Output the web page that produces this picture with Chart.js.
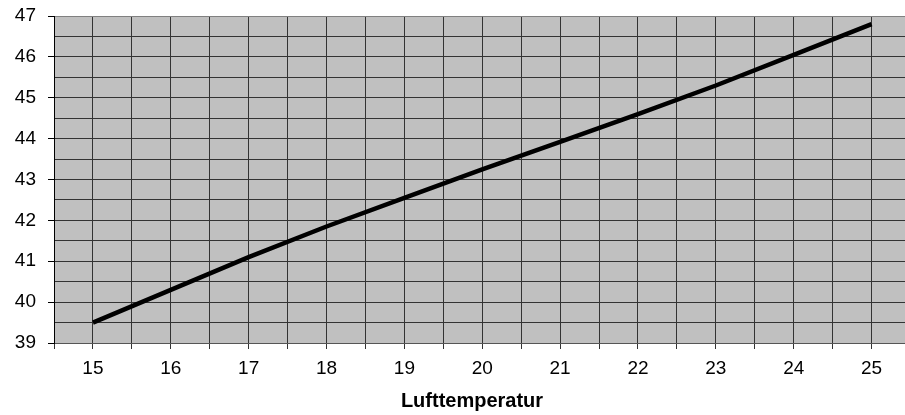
<!DOCTYPE html>
<html>
<head>
<meta charset="utf-8">
<script src="https://cdn.jsdelivr.net/npm/chart.js@4.4.1/dist/chart.umd.min.js"></script>
<style>
html,body{margin:0;padding:0;background:#fff;overflow:hidden;width:905px;height:415px;}
canvas{display:block;}
</style>
</head>
<body>
<canvas id="c" width="930" height="415"></canvas>
<script>
const categories = [15, 16, 17, 18, 19, 20, 21, 22, 23, 24, 25];
const values = [39.5, 40.3, 41.1, 41.85, 42.55, 43.25, 43.92, 44.6, 45.3, 46.05, 46.8];
const yTicks = [39, 40, 41, 42, 43, 44, 45, 46, 47];
const xTitle = 'Lufttemperatur';

const points = categories.map((c, i) => ({x: c, y: values[i]}));

const bgPlugin = {
  id: 'bg',
  beforeDraw(chart) {
    const {ctx, chartArea: a} = chart;
    ctx.save();
    ctx.fillStyle = '#C0C0C0';
    ctx.fillRect(a.left, a.top, a.right - a.left, a.bottom - a.top);
    ctx.restore();
  }
};

new Chart(document.getElementById('c'), {
  type: 'line',
  data: {
    datasets: [{
      data: points,
      borderColor: '#000',
      borderWidth: 4.5,
      pointRadius: 0,
      tension: 0,
      fill: false
    }]
  },
  options: {
    responsive: false,
    animation: false,
    layout: {padding: {top: 16, left: 14, right: 0, bottom: 0}},
    plugins: {
      legend: {display: false},
      tooltip: {enabled: false},
      title: {
        display: true,
        text: xTitle,
        position: 'bottom',
        color: '#000',
        font: {family: 'Liberation Sans, Arial, sans-serif', size: 20, weight: 'bold'},
        padding: {top: 9, bottom: 2}
      }
    },
    scales: {
      x: {
        type: 'linear',
        min: 14.5,
        max: 25.5,
        border: {color: '#555', width: 1},
        grid: {
          color: '#333',
          tickColor: '#333',
          tickLength: 6,
          drawOnChartArea: true
        },
        ticks: {
          stepSize: 0.5,
          autoSkip: false,
          maxRotation: 0,
          padding: 8,
          color: '#000',
          font: {family: 'Liberation Sans, Arial, sans-serif', size: 19},
          callback: (v) => (Number.isInteger(v) && categories.includes(v)) ? String(v) : ''
        },
        afterFit(s) { s.height = 37; s.paddingLeft = 0; s.paddingRight = 19.5; }
      },
      y: {
        min: yTicks[0],
        max: yTicks[yTicks.length - 1],
        border: {color: '#000', width: 1},
        grid: {
          color: (ctx) => ctx.tick && ctx.tick.value === 47 ? '#808080' : '#333',
          tickColor: (ctx) => ctx.tick && Number.isInteger(ctx.tick.value) ? '#000' : 'rgba(0,0,0,0)',
          tickLength: 6
        },
        ticks: {
          stepSize: 0.5,
          autoSkip: false,
          padding: 12,
          color: '#000',
          font: {family: 'Liberation Sans, Arial, sans-serif', size: 19},
          callback: (v) => yTicks.includes(v) ? String(v) : ''
        },
        afterFit(s) { s.width = 40; s.paddingTop = 0; s.paddingBottom = 0; }
      }
    }
  },
  plugins: [bgPlugin]
});
</script>
</body>
</html>
